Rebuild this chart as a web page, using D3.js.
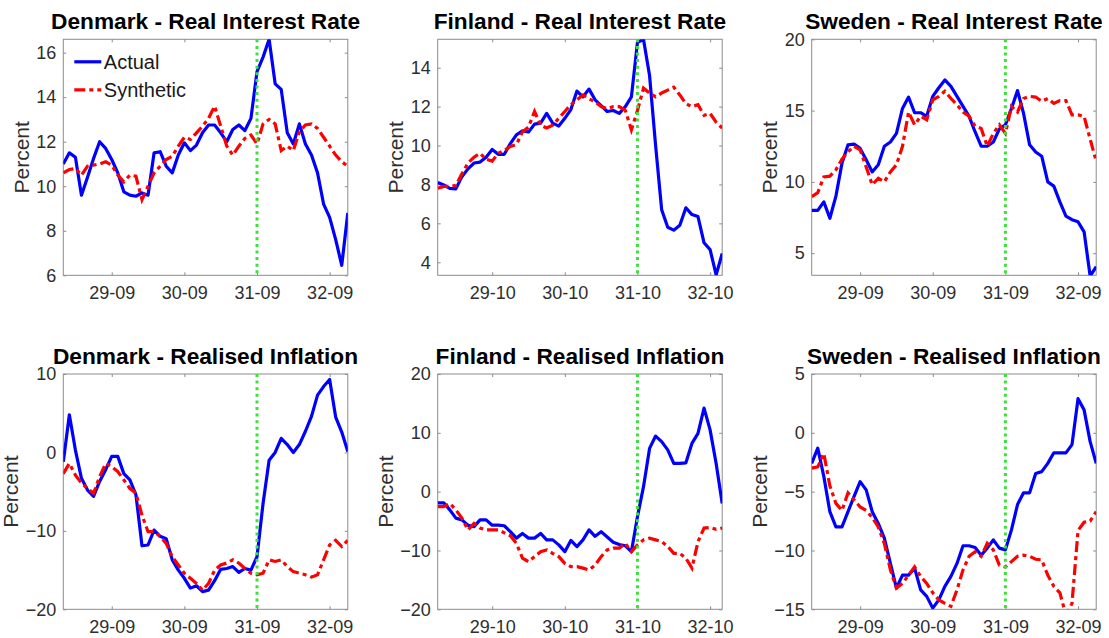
<!DOCTYPE html>
<html>
<head>
<meta charset="utf-8">
<script src="https://cdn.jsdelivr.net/npm/d3@7"></script>
<style>
  body { margin: 0; background: #fff; }
  svg { font-family: "Liberation Sans", Arial, sans-serif; }
</style>
</head>
<body>
<div id="chart"></div>
<script>
// monthly data, Jan 1929 .. Dec 1932 (48 months)
const months = d3.range(48);

// tick labels
const sepTickIdx = [8, 20, 32, 44];
const sepLabels = ["29-09", "30-09", "31-09", "32-09"];
const octTickIdx = [9, 21, 33, 45];
const octLabels = ["29-10", "30-10", "31-10", "32-10"];

// real interest rate
const dkRateActual = [11.0,11.5,11.3,9.6,10.4,11.25,12.0,11.7,11.2,10.6, 9.75,9.6,9.55,9.7,9.6,11.5,11.55,10.9,10.6,11.4, 11.95,11.6,11.85,12.4,12.75,12.75,12.4,12.0,12.55,12.75, 12.5,13.05,15.15,15.8,16.6,14.6,14.35,12.4,11.9,12.8, 11.9,11.4,10.6,9.2,8.6,7.6,6.45,8.8];
const dkRateSynth = [10.6,10.75,10.8,10.5,10.9,10.95,11.0,11.1,10.95,10.5, 10.2,10.5,10.45,9.4,10.0,10.6,10.9,11.2,11.35,11.8, 12.2,12.1,12.4,12.7,13.05,13.6,12.7,11.8,11.4,11.8, 12.15,12.3,11.9,12.8,13.0,12.8,11.6,11.8,11.6,12.45, 12.75,12.8,12.6,12.2,11.8,11.4,11.1,10.9];
const fiRateActual = [8.1,7.97,7.8,7.77,8.4,8.8,9.1,9.15,9.4,9.8, 9.55,9.55,10.1,10.55,10.75,10.7,11.1,11.15,11.65,11.15, 11.0,11.4,11.85,12.8,12.5,12.9,12.35,12.05,11.75,11.8, 11.65,12.0,12.5,15.3,15.45,13.6,10.0,6.7,5.8,5.65, 5.9,6.8,6.45,6.35,5.0,4.65,3.35,4.45];
const fiRateSynth = [7.8,7.9,7.9,7.95,8.55,9.1,9.4,9.6,9.3,9.2, 9.6,9.75,9.95,10.05,10.7,10.95,11.75,11.05,10.9,11.05, 11.4,11.75,12.1,12.35,12.6,12.4,12.25,12.0,11.9,12.0, 12.0,11.8,10.8,11.8,12.95,12.7,12.5,12.7,12.85,13.0, 12.6,12.15,12.0,12.1,11.55,11.65,11.2,10.9];
const seRateActual = [8.0,8.0,8.6,7.45,9.0,11.3,12.6,12.65,12.35,11.55, 10.7,11.2,12.5,12.8,13.4,15.15,15.95,14.85,14.85,14.6, 16.0,16.6,17.15,16.7,16.0,15.3,14.6,13.5,12.5,12.5, 12.8,13.7,14.0,15.15,16.4,14.8,12.6,12.1,11.8,10.0, 9.7,8.6,7.6,7.35,7.2,6.5,3.4,4.05];
const seRateSynth = [8.97,9.25,10.35,10.4,10.85,11.6,12.1,12.5,12.25,11.05, 9.8,10.25,10.0,10.7,11.2,12.5,14.9,14.0,14.6,14.35, 15.75,16.0,16.35,15.85,15.4,14.9,14.6,13.9,13.75,12.5, 13.4,14.0,13.4,15.3,14.9,15.85,16.0,15.95,15.65,15.85, 15.5,15.7,15.7,14.7,14.7,14.6,13.0,11.45];

// realised inflation
const dkInfActual = [-1.2,4.8,0.3,-3.3,-4.8,-5.6,-3.7,-2.2,-0.5,-0.5, -2.7,-3.5,-5.4,-11.9,-11.8,-9.9,-10.7,-11.0,-13.7,-15.0, -16.05,-17.3,-17.0,-17.75,-17.55,-16.35,-14.9,-14.8,-14.55,-15.3, -14.8,-15.0,-13.3,-6.5,-1.0,0.0,1.8,1.0,0.0,1.0, 2.7,4.6,7.3,8.4,9.3,4.5,2.6,0.1];
const dkInfSynth = [-2.7,-1.4,-2.9,-3.9,-4.6,-5.2,-3.1,-1.4,-1.8,-2.45, -3.5,-4.6,-5.2,-8.0,-10.1,-10.1,-10.7,-11.6,-13.3,-14.35, -15.4,-16.05,-16.7,-17.55,-16.7,-15.0,-14.35,-14.1,-13.7,-14.1, -14.8,-15.4,-15.6,-15.4,-13.7,-13.9,-13.7,-14.55,-15.2,-15.4, -15.6,-15.9,-15.6,-13.7,-11.8,-11.2,-12.0,-11.2];
const fiInfActual = [-1.9,-1.9,-3.1,-4.5,-4.8,-5.7,-5.95,-4.8,-4.8,-5.7, -5.7,-5.8,-6.8,-7.9,-7.1,-7.9,-7.9,-7.1,-8.2,-8.2, -9.05,-10.2,-8.3,-9.35,-8.2,-6.5,-7.6,-6.8,-7.7,-8.6, -9.0,-9.2,-10.2,-4.25,0.85,7.35,9.45,8.5,7.1,4.8, 4.8,4.9,8.2,9.9,14.2,10.5,4.8,-2.0];
const fiInfSynth = [-2.55,-2.55,-2.0,-3.1,-4.5,-6.5,-5.4,-6.2,-6.5,-6.5, -6.5,-7.0,-7.5,-8.8,-11.3,-11.9,-11.05,-10.2,-9.9,-10.5, -11.05,-12.2,-12.75,-12.75,-13.0,-13.3,-12.5,-11.05,-9.9,-9.6, -9.6,-8.8,-10.2,-9.05,-8.2,-7.9,-8.2,-8.5,-9.3,-10.5, -10.5,-11.3,-13.0,-8.5,-6.2,-6.1,-6.4,-6.2];
const seInfActual = [-2.6,-1.3,-3.7,-6.7,-8.0,-8.0,-6.7,-5.4,-4.15,-4.85, -6.7,-7.7,-8.95,-11.1,-13.2,-12.1,-12.1,-11.5,-13.35,-13.9, -14.9,-14.2,-13.05,-12.2,-11.1,-9.6,-9.6,-9.75,-10.4,-9.8, -9.1,-9.8,-9.95,-8.25,-6.1,-5.1,-5.1,-3.45,-3.3,-2.6, -1.7,-1.7,-1.7,-1.0,2.9,1.95,-0.75,-2.6];
const seInfSynth = [-3.0,-2.9,-1.75,-4.5,-6.0,-6.6,-5.1,-5.7,-6.3,-6.6, -7.2,-8.0,-9.4,-11.65,-13.2,-12.8,-12.1,-11.4,-12.2,-12.8, -13.6,-14.2,-14.5,-14.75,-13.35,-11.65,-10.5,-10.1,-10.5,-9.4, -9.95,-11.25,-11.4,-10.95,-10.5,-10.4,-10.5,-10.75,-10.8,-12.1, -13.05,-13.6,-15.5,-14.5,-8.3,-7.6,-7.5,-6.7];

const panels = [
  {title: "Denmark - Real Interest Rate", actual: dkRateActual, synth: dkRateSynth, yDomain: [6, 16.6], yTicks: [6, 8, 10, 12, 14, 16], xTicks: sepTickIdx, xLabels: sepLabels, treat: 32, col: 0, row: 0, legend: true},
  {title: "Finland - Real Interest Rate", actual: fiRateActual, synth: fiRateSynth, yDomain: [3.33, 15.46], yTicks: [4, 6, 8, 10, 12, 14], xTicks: octTickIdx, xLabels: octLabels, treat: 33, col: 1, row: 0},
  {title: "Sweden - Real Interest Rate", actual: seRateActual, synth: seRateSynth, yDomain: [3.45, 20], yTicks: [5, 10, 15, 20], xTicks: sepTickIdx, xLabels: sepLabels, treat: 32, col: 2, row: 0},
  {title: "Denmark - Realised Inflation", actual: dkInfActual, synth: dkInfSynth, yDomain: [-20, 10], yTicks: [-20, -10, 0, 10], xTicks: sepTickIdx, xLabels: sepLabels, treat: 32, col: 0, row: 1},
  {title: "Finland - Realised Inflation", actual: fiInfActual, synth: fiInfSynth, yDomain: [-20, 20], yTicks: [-20, -10, 0, 10, 20], xTicks: octTickIdx, xLabels: octLabels, treat: 33, col: 1, row: 1},
  {title: "Sweden - Realised Inflation", actual: seInfActual, synth: seInfSynth, yDomain: [-15, 5], yTicks: [-15, -10, -5, 0, 5], xTicks: sepTickIdx, xLabels: sepLabels, treat: 32, col: 2, row: 1}
];

const width = 1109, height = 638;
const colLeft = [63.3, 437.7, 811.7], plotW = 284.5;
const rowTop = [39.3, 374], rowH = [236, 235.3];
const axisGray = "#8c8c8c", textGray = "#2e2e2e";

const svg = d3.select("#chart")
  .append("svg")
  .attr("width", width)
  .attr("height", height)
  .attr("viewBox", [0, 0, width, height]);

panels.forEach((p, k) => {
  const left = colLeft[p.col], top = rowTop[p.row], h = rowH[p.row];
  const x = d3.scaleLinear().domain([0, months.length - 1]).range([left, left + plotW]);
  const y = d3.scaleLinear().domain(p.yDomain).range([top + h, top]);

  svg.append("clipPath").attr("id", "clip" + k)
    .append("rect").attr("x", left).attr("y", top).attr("width", plotW).attr("height", h);

  const g = svg.append("g");

  // box + ticks on all sides, pointing in
  const styleAxis = a => {
    a.select(".domain").remove();
    a.selectAll(".tick line").attr("stroke", axisGray);
    a.selectAll("text").attr("fill", textGray).attr("font-size", 18)
      .attr("font-family", "Liberation Sans, Arial, sans-serif");
  };
  g.append("g").attr("transform", `translate(0,${top + h})`)
    .call(d3.axisBottom(x).tickValues(p.xTicks).tickFormat((d, i) => p.xLabels[i])
      .tickSizeInner(-3).tickSizeOuter(0).tickPadding(10.7))
    .call(styleAxis);
  g.append("g").attr("transform", `translate(0,${top})`)
    .call(d3.axisTop(x).tickValues(p.xTicks).tickFormat("").tickSizeInner(-3).tickSizeOuter(0))
    .call(styleAxis);
  const yAx = g.append("g").attr("transform", `translate(${left},0)`)
    .call(d3.axisLeft(y).tickValues(p.yTicks).tickSizeInner(-3).tickSizeOuter(0).tickPadding(7))
    .call(styleAxis);
  g.append("g").attr("transform", `translate(${left + plotW},0)`)
    .call(d3.axisRight(y).tickValues(p.yTicks).tickFormat("").tickSizeInner(-3).tickSizeOuter(0))
    .call(styleAxis);

  g.append("rect")
    .attr("x", left).attr("y", top).attr("width", plotW).attr("height", h)
    .attr("fill", "none").attr("stroke", axisGray).attr("stroke-width", 1);

  // series
  const line = d3.line().x((d, i) => x(months[i])).y(d => y(d));
  const plot = g.append("g").attr("clip-path", `url(#clip${k})`);
  plot.append("path").datum(p.actual)
    .attr("d", line).attr("fill", "none")
    .attr("stroke", "#0000ff").attr("stroke-width", 3.2).attr("stroke-linejoin", "round");
  plot.append("path").datum(p.synth)
    .attr("d", line).attr("fill", "none")
    .attr("stroke", "#ff0000").attr("stroke-width", 3.2)
    .attr("stroke-dasharray", "11,4,4,4");
  plot.append("line")
    .attr("x1", x(p.treat)).attr("x2", x(p.treat))
    .attr("y1", top).attr("y2", top + h)
    .attr("stroke", "#3de03d").attr("stroke-width", 3)
    .attr("stroke-dasharray", "3,3.6");

  // y label
  const maxW = d3.max(yAx.selectAll("text").nodes(), n => n.getComputedTextLength());
  svg.append("text")
    .attr("transform", `translate(${left - 7 - maxW - 15},${top + h / 2}) rotate(-90)`)
    .attr("text-anchor", "middle")
    .attr("dominant-baseline", "central")
    .attr("font-size", 21)
    .attr("fill", textGray)
    .text("Percent");

  // title
  svg.append("text")
    .attr("x", left + plotW / 2)
    .attr("y", top - 10.5)
    .attr("text-anchor", "middle")
    .attr("font-size", 22.7)
    .attr("font-weight", "bold")
    .attr("fill", "#000")
    .text(p.title);

  if (p.legend) {
    const items = [
      {name: "Actual", color: "#0000ff", dash: null, dy: 22.5},
      {name: "Synthetic", color: "#ff0000", dash: "11,4,4,4", dy: 50.5}
    ];
    items.forEach(it => {
      g.append("line")
        .attr("x1", left + 11).attr("x2", left + 38)
        .attr("y1", top + it.dy).attr("y2", top + it.dy)
        .attr("stroke", it.color).attr("stroke-width", 3.2)
        .attr("stroke-dasharray", it.dash);
      g.append("text")
        .attr("x", left + 40.5).attr("y", top + it.dy)
        .attr("dominant-baseline", "central")
        .attr("font-size", 20)
        .attr("fill", "#1a1a1a")
        .text(it.name);
    });
  }
});
</script>
</body>
</html>
